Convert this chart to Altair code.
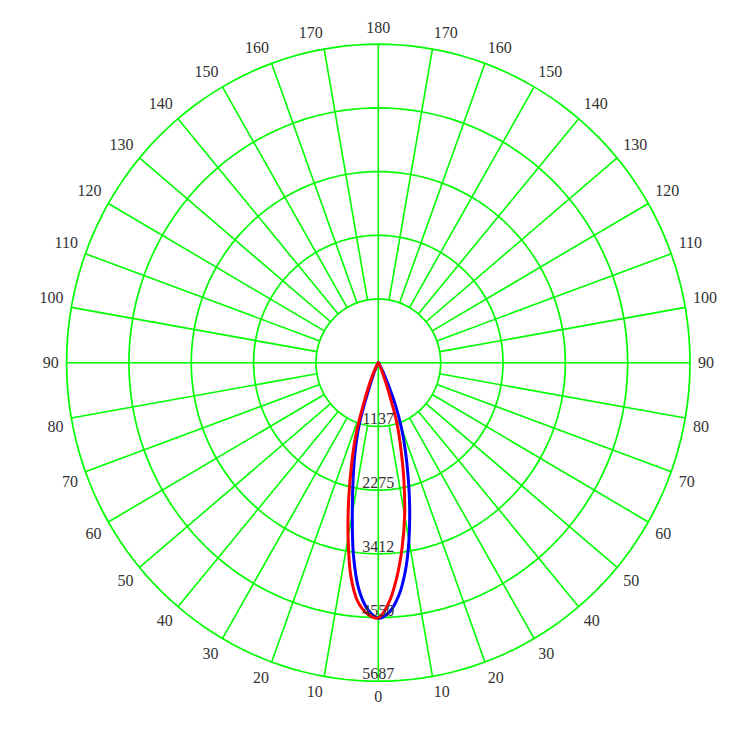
import altair as alt
import numpy as np
import pandas as pd

# ---------------- data ----------------
MAX_I = 5687
ring_labels = ["1137", "2275", "3412", "4550", "5687"]
ring_values = [1137.4, 2274.8, 3412.2, 4549.6, 5687.0]

gamma = [0, 2.5, 5, 7.5, 10, 12.5, 15, 17.5, 20, 22.5, 25, 27.5, 30,
         35, 40, 45, 50, 60, 70, 80, 90]
# blue curve (left half / right half of the plane)
blue_left = [4563, 4410, 4065, 3472, 2733, 2121, 1626, 1159, 534, 250, 110, 50, 20,
             12, 8, 6, 4, 3, 2, 1, 0]
blue_right = [4563, 4466, 4194, 3764, 3221, 2642, 2100, 1638, 1227, 810, 400, 200, 90,
              20, 12, 8, 6, 4, 2, 1, 0]
# red curve
red_left = [4557, 4490, 4283, 3840, 3174, 2495, 1886, 1377, 811, 450, 250, 120, 50,
            20, 12, 8, 6, 4, 2, 1, 0]
red_right = [4557, 4298, 3855, 3330, 2768, 2159, 1591, 1130, 534, 250, 110, 50, 20,
             12, 8, 6, 4, 3, 2, 1, 0]

angle_ticks = list(range(0, 181, 10))
spoke_angles = list(range(0, 360, 10))

GRID = "#00FF00"
TEXT = "#333333"
FONT = "Liberation Serif"

# ---------------- build tables ----------------
def curve(name, left, right):
    rows = []
    for g, v in zip(gamma, left):
        rows.append((name, -g, v))
    for g, v in zip(gamma, right):
        if g == 0:
            continue
        rows.append((name, g, v))
    df = pd.DataFrame(rows, columns=["series", "ang", "I"])
    rad = np.deg2rad(df["ang"])
    df["x"] = df["I"] * np.sin(rad)
    df["y"] = -df["I"] * np.cos(rad)
    return df.sort_values("ang")

blue_df = curve("blue", blue_left, blue_right)
red_df = curve("red", red_left, red_right)

circ_rows = []
for i, r in enumerate(ring_values):
    for t in np.arange(0, 361, 2):
        circ_rows.append((i, t, r * np.sin(np.deg2rad(t)), r * np.cos(np.deg2rad(t))))
circ_df = pd.DataFrame(circ_rows, columns=["ring", "t", "x", "y"])

sp_rows = []
for a in spoke_angles:
    r0 = 0 if a % 90 == 0 else ring_values[0]
    rad = np.deg2rad(a)
    sp_rows.append((r0 * np.sin(rad), -r0 * np.cos(rad), MAX_I * np.sin(rad), -MAX_I * np.cos(rad)))
sp_df = pd.DataFrame(sp_rows, columns=["x", "y", "x2", "y2"])

R_LAB = MAX_I * 1.0255
lab_rows = []
for a in angle_ticks:
    sides = [0] if a in (0, 180) else [-1, 1]
    for s in sides:
        sa = a if s >= 0 else -a
        rad = np.deg2rad(sa)
        if s == 0:
            align = "center"
        elif s > 0:
            align = "left"
        else:
            align = "right"
        if a == 90:
            base = "middle"
        elif a < 90:
            base = "top"
        else:
            base = "bottom"
        lab_rows.append((str(a), R_LAB * np.sin(rad), -R_LAB * np.cos(rad), align, base))
lab_df = pd.DataFrame(lab_rows, columns=["text", "x", "y", "align", "base"])

ring_df = pd.DataFrame({"text": ring_labels, "x": [0] * 5, "y": [-v for v in ring_values]})

# ---------------- chart ----------------
xs = alt.Scale(domain=[-6683, 6672], nice=False, zero=False)
ys = alt.Scale(domain=[-6308, 6262], nice=False, zero=False)
X = lambda f="x": alt.X(f"{f}:Q", scale=xs, axis=None)
Y = lambda f="y": alt.Y(f"{f}:Q", scale=ys, axis=None)

circles = alt.Chart(circ_df).mark_line(color=GRID, strokeWidth=1.7).encode(
    x=X(), y=Y(), detail="ring:N", order="t:Q")

spokes = alt.Chart(sp_df).mark_rule(color=GRID, strokeWidth=1.6).encode(
    x=X(), y=Y(), x2="x2:Q", y2="y2:Q")

def line(df, color):
    return alt.Chart(df).mark_line(color=color, strokeWidth=3, interpolate="catmull-rom").encode(
        x=X(), y=Y(), order="ang:Q")

layers = [circles, spokes, line(blue_df, "#0000FF"), line(red_df, "#FF0000")]

for align in ["left", "right", "center"]:
    for base in ["top", "bottom", "middle"]:
        sub = lab_df[(lab_df["align"] == align) & (lab_df["base"] == base)]
        if len(sub) == 0:
            continue
        layers.append(
            alt.Chart(sub).mark_text(align=align, baseline=base, font=FONT, fontSize=16,
                                     color=TEXT).encode(x=X(), y=Y(), text="text:N"))

layers.append(
    alt.Chart(ring_df).mark_text(align="center", baseline="bottom", dy=1, font=FONT,
                                 fontSize=16, color=TEXT).encode(x=X(), y=Y(), text="text:N"))

chart = alt.layer(*layers).properties(
    width=732, height=704, padding=4,
    autosize=alt.AutoSizeParams(type="none"),
).configure_view(stroke=None, strokeWidth=0)

chart.save("out.html", embed_options={"renderer": "svg", "actions": False})
